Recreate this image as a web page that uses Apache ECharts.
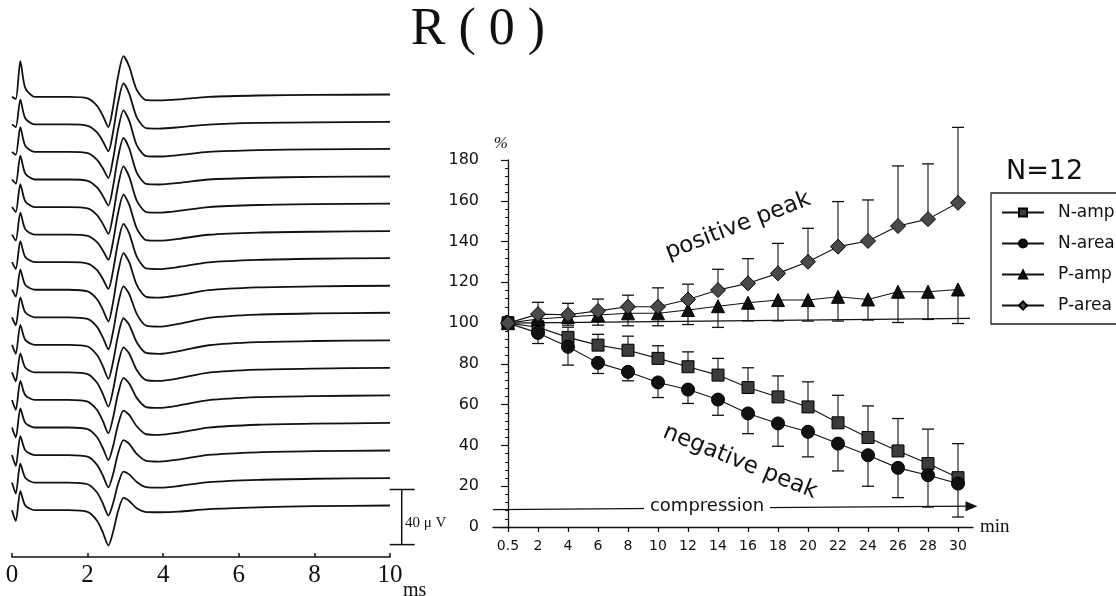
<!DOCTYPE html>
<html>
<head>
<meta charset="utf-8">
<script src="https://cdn.jsdelivr.net/npm/echarts@6.0.0/dist/echarts.min.js"></script>
<style>
  html, body { margin: 0; padding: 0; background: #fff; }
  #chart { width: 1116px; height: 596px; }
</style>
</head>
<body>
<div id="chart"></div>
<script>
// ---------- Right panel data (% of initial value) ----------
const timeLabels = ['0.5','2','4','6','8','10','12','14','16','18','20','22','24','26','28','30'];
const nAmp    = [100, 98, 93, 89.2, 86.7, 82.7, 78.6, 74.5, 68.4, 63.8, 58.9, 51.1, 43.9, 37.3, 31.1, 24.2];
const nAmpSD  = [3, 3, 5, 5.3, 6.9, 6.2, 7.3, 8.2, 9.7, 10.3, 12.3, 13.5, 15.5, 15.9, 16.9, 16.7];
const nArea   = [100, 95.2, 88.4, 80.5, 76.1, 70.9, 67.4, 62.5, 55.7, 50.8, 46.7, 40.9, 35.2, 29.0, 25.4, 21.3];
const nAreaSD = [3, 5.2, 9, 5.2, 4.4, 7.4, 6.8, 7.7, 9.9, 11.2, 12.3, 13.4, 15.2, 14.6, 15.6, 16.4];
const pAmp    = [100, 102, 103, 104, 104.8, 104.8, 106.4, 108.3, 110, 111.3, 111.3, 112.9, 111.6, 115.4, 115.4, 116.5];
const pAmpSD  = [1, 3, 4, 5, 6.1, 6.1, 7.1, 10.4, 8.9, 10.2, 10.3, 11.9, 10.1, 15.1, 13.6, 16.7];
const pArea   = [100, 104.4, 104.1, 106, 108, 108, 111.6, 116.2, 119.5, 124.4, 130.1, 137.5, 140.3, 147.6, 151, 159];
const pAreaSD = [3, 5.8, 5.6, 5.8, 5.7, 9.3, 7.5, 10.2, 12.1, 14.7, 16.4, 22.1, 20.1, 29.5, 27.1, 37];
const refLineX = [0, 15.4];
const refLineY = [100, 102.3];
const compressionX = [-0.5, 15.45];
const compressionY = [8.5, 10.2];
const yTicks = [0, 20, 40, 60, 80, 100, 120, 140, 160, 180];

// ---------- Left panel data (waveforms, µV relative to each trace baseline) ----------
const traceTimes = [0, 0.1, 0.22, 0.35, 0.6, 1.5, 2.0, 2.25, 2.4, 2.55, 2.68, 2.8, 2.95, 3.1, 3.3, 3.55, 3.9, 4.4, 5.2, 6.5, 8.0, 10];
const trace01 = [0, -1.5, 26, 6.5, 0, 0, -1.1, -6.5, -13.5, -21.8, -6.4, 14.1, 29.5, 22.1, 5.1, -2.3, -2.5, -1.8, 0, 1.0, 1.4, 1.7];
const trace02 = [0, -2, 18, 4.5, 0, 0, -1, -5.8, -12, -19.4, -4.6, 15, 29.8, 22.4, 5.1, -2.7, -3, -2.1, -0.1, 1.1, 1.5, 1.8];
const trace03 = [0, -2, 18, 4.5, 0, 0, -0.9, -5.7, -11.7, -18.9, -4.2, 15.5, 30.2, 22.7, 5, -3, -3.3, -2.3, 0, 1.3, 1.9, 2.2];
const trace04 = [0, -3, 17.4, 4.4, 0, 0, -0.9, -5.7, -11.7, -18.9, -4.1, 15.5, 30.3, 22.7, 5, -3.2, -3.6, -2.5, 0, 1.3, 1.9, 2.2];
const trace05 = [0, -3.6, 16.7, 4.2, 0, 0, -1, -5.8, -12, -19.4, -4.7, 14.8, 29.5, 22.1, 4.7, -3.6, -4, -2.8, 0, 1.5, 2.1, 2.5];
const trace06 = [0, -4.4, 16, 4, 0, 0, -0.9, -5.5, -11.3, -18.2, -4, 14.8, 29, 21.8, 4.5, -4, -4.4, -3.1, -0.1, 1.5, 2.1, 2.5];
const trace07 = [0, -5, 15.2, 3.8, 0, 0, -1, -5.8, -12, -19.4, -5.2, 13.6, 27.8, 20.9, 4.1, -4.5, -5, -3.5, -0.1, 1.7, 2.5, 2.9];
const trace08 = [0, -5, 14.5, 3.6, 0, 0, -1.2, -6.9, -14.3, -23, -8.1, 11.7, 26.6, 20, 3.6, -5.2, -5.8, -4.1, -0.3, 1.7, 2.5, 2.9];
const trace09 = [0, -5.8, 14.5, 3.6, 0, 0, -1.2, -7, -14.4, -23.2, -9.5, 8.8, 22.5, 16.9, 2.5, -6.1, -6.8, -4.8, -0.4, 2, 2.8, 3.3];
const trace10 = [0, -6.5, 14.5, 3.6, 0, 0, -1.2, -7.4, -15.3, -24.7, -11.5, 6.1, 19.3, 14.5, 1.9, -5.9, -6.5, -4.6, -0.3, 2, 2.8, 3.3];
const trace11 = [0, -6.5, 13.8, 3.5, 0, 0, -1.2, -7.5, -15.4, -24.9, -12, 5.3, 18.2, 13.7, 1.7, -5.6, -6.2, -4.3, -0.2, 2, 2.8, 3.3];
const trace12 = [0, -7.3, 13.8, 3.5, 0, 0, -1.2, -7.3, -15, -24.2, -12.1, 3.9, 16, 12, 1.5, -5.2, -5.8, -4.1, -0.2, 2, 2.8, 3.3];
const trace13 = [0, -7.3, 13.8, 3.5, 0, 0, -1.2, -7.1, -14.7, -23.7, -12.9, 1.5, 12.3, 9.2, 0.9, -4.9, -5.4, -3.8, -0.1, 2, 2.8, 3.3];
const trace14 = [0, -8, 13.8, 3.5, 0, 0, -1.2, -7.1, -14.6, -23.5, -13.2, 0.6, 10.9, 8.2, 0.8, -4.2, -4.7, -3.3, 0.1, 2, 2.8, 3.3];
const trace15 = [0, -8, 13.8, 3.5, 0, 0, -1.2, -7.2, -14.9, -24, -14.4, -1.6, 8, 6, 0.5, -3.2, -3.6, -2.5, 0.3, 2, 2.8, 3.3];
const trace16 = [0, -8, 13.8, 3.5, 0, 0, -1.3, -7.7, -15.9, -25.6, -15.2, -1.4, 8.9, 6.7, 1.3, -1.4, -1.5, -1.1, 0.7, 2, 2.9, 3.4];
const traces = [trace01, trace02, trace03, trace04, trace05, trace06, trace07, trace08,
                trace09, trace10, trace11, trace12, trace13, trace14, trace15, trace16];
const traceSpacingUV = 20;          // vertical offset between stacked sweeps (µV)
const msTicks = [0, 2, 4, 6, 8, 10];
const scaleBar = [10.31, -25, 15];  // x (ms), bottom, top (µV) : 40 µV

// ---------- Build chart ----------
const SANS = 'DejaVu Sans';
const SERIF = 'Liberation Serif';
const chart = echarts.init(document.getElementById('chart'), null, { renderer: 'canvas' });

const traceSeries = traces.map((tr, k) => ({
  type: 'line',
  xAxisIndex: 0, yAxisIndex: 0,
  data: traceTimes.map((t, i) => [t, (traces.length - 1 - k) * traceSpacingUV + tr[i]]),
  showSymbol: false, symbol: 'none',
  smooth: 0.25,
  lineStyle: { color: '#111', width: 1.8 },
  silent: true, animation: false, z: 3
}));

function errSeries(means, sds, dir) {
  return {
    type: 'custom', xAxisIndex: 2, yAxisIndex: 1, silent: true, animation: false, z: 2,
    clip: false,
    data: means.map((m, i) => [i, m, sds[i]]),
    renderItem: (params, api) => {
      const x = api.value(0), m = api.value(1), s = api.value(2);
      const p0 = api.coord([x, m]);
      const p1 = api.coord([x, m + dir * s]);
      return {
        type: 'group',
        children: [
          { type: 'line', shape: { x1: p0[0], y1: p0[1], x2: p1[0], y2: p1[1] }, style: { stroke: '#111', lineWidth: 1.1 } },
          { type: 'line', shape: { x1: p1[0] - 6, y1: p1[1], x2: p1[0] + 6, y2: p1[1] }, style: { stroke: '#111', lineWidth: 1.3 } }
        ]
      };
    }
  };
}

function lineSeries(name, vals, symbol, size, fill) {
  return {
    name, type: 'line', xAxisIndex: 2, yAxisIndex: 1,
    data: vals.map((v, i) => [i, v]),
    symbol, symbolSize: size, showAllSymbol: true,
    itemStyle: { color: fill, borderColor: '#000', borderWidth: 1 },
    lineStyle: { color: '#111', width: 1.1 },
    animation: false, z: 4
  };
}

const option = {
  backgroundColor: '#fff',
  animation: false,
  grid: [
    { left: 12, top: 39, width: 378, height: 518 },
    { left: 493, top: 160, width: 480, height: 367 }
  ],
  xAxis: [
    {
      type: 'value', gridIndex: 0, min: 0, max: 10, interval: 2,
      axisLine: { show: true, onZero: false, lineStyle: { color: '#111', width: 1.6 } },
      axisTick: { show: true, inside: true, length: 4, lineStyle: { color: '#111', width: 1.5 } },
      axisLabel: { show: true, margin: 6, color: '#111', fontFamily: SERIF, fontSize: 25,
                   formatter: v => msTicks.indexOf(v) >= 0 ? String(v) : '' },
      splitLine: { show: false }
    },
    {
      type: 'category', gridIndex: 1, data: timeLabels, boundaryGap: true,
      axisLine: { show: true, onZero: false, lineStyle: { color: '#111', width: 1.3 } },
      axisTick: { show: true, alignWithLabel: true, length: 5, lineStyle: { color: '#111', width: 1.3 } },
      axisLabel: { interval: 0, margin: 12, color: '#111', fontFamily: SANS, fontSize: 14 },
      name: 'min', nameLocation: 'end', nameGap: 7,
      nameTextStyle: { fontFamily: SERIF, fontSize: 19, color: '#111', verticalAlign: 'middle' },
      splitLine: { show: false }
    },
    {
      type: 'value', gridIndex: 1, min: -0.5, max: 15.5, show: false
    }
  ],
  yAxis: [
    { type: 'value', gridIndex: 0, min: -34, max: 342, show: false },
    {
      type: 'value', gridIndex: 1, min: 0, max: 180, interval: 20,
      axisLine: { show: true, lineStyle: { color: '#111', width: 1.3 } },
      axisTick: { show: true, length: 7, lineStyle: { color: '#111', width: 1.2 } },
      minorTick: { show: true, splitNumber: 5, length: 3, lineStyle: { color: '#111', width: 1 } },
      axisLabel: { margin: 14, color: '#111', fontFamily: SANS, fontSize: 16,
                   formatter: v => yTicks.indexOf(v) >= 0 ? String(v) : '' },
      splitLine: { show: false },
      name: '%', nameLocation: 'end', nameGap: 8,
      nameTextStyle: { fontFamily: SERIF, fontStyle: 'italic', fontSize: 17, color: '#111', align: 'right' }
    }
  ],
  legend: {
    data: ['N-amp', 'N-area', 'P-amp', 'P-area'],
    orient: 'vertical', left: 991, top: 193,
    padding: [11, 80, 10, 10], itemGap: 14,
    itemWidth: 42, itemHeight: 10,
    borderColor: '#222', borderWidth: 1.3,
    textStyle: { fontFamily: SANS, fontSize: 17, color: '#111', padding: [0, 0, 0, 9] },
    selectedMode: false
  },
  series: [
    ...traceSeries,
    {
      type: 'custom', xAxisIndex: 0, yAxisIndex: 0, silent: true, clip: false, animation: false,
      data: [scaleBar],
      renderItem: (params, api) => {
        const x = api.value(0);
        const pb = api.coord([x, api.value(1)]);
        const pt = api.coord([x, api.value(2)]);
        const st = { stroke: '#111', lineWidth: 1.5 };
        return { type: 'group', children: [
          { type: 'line', shape: { x1: pb[0], y1: pb[1], x2: pt[0], y2: pt[1] }, style: st },
          { type: 'line', shape: { x1: pb[0] - 12, y1: pb[1], x2: pb[0] + 13, y2: pb[1] }, style: st },
          { type: 'line', shape: { x1: pt[0] - 12, y1: pt[1], x2: pt[0] + 13, y2: pt[1] }, style: st }
        ]};
      }
    },
    {
      type: 'line', xAxisIndex: 2, yAxisIndex: 1, silent: true, animation: false,
      data: refLineX.map((x, i) => [x, refLineY[i]]),
      symbol: 'none', lineStyle: { color: '#111', width: 1.1 }, z: 1,
      markLine: {
        silent: true, animation: false,
        symbol: ['none', 'triangle'], symbolSize: [10, 12],
        lineStyle: { color: '#111', width: 1.2, type: 'solid' },
        label: { show: false },
        data: [[{ coord: [compressionX[0], compressionY[0]] }, { coord: [compressionX[1], compressionY[1]] }]]
      }
    },
    errSeries(nAmp, nAmpSD, 1),
    errSeries(nArea, nAreaSD, -1),
    errSeries(pAmp, pAmpSD, -1),
    errSeries(pArea, pAreaSD, 1),
    lineSeries('N-amp', nAmp, 'rect', 12, '#3c3c3c'),
    lineSeries('N-area', nArea, 'circle', 13, '#111'),
    lineSeries('P-amp', pAmp, 'triangle', 13, '#111'),
    lineSeries('P-area', pArea, 'diamond', 15, '#4a4a4a')
  ],
  graphic: [
    { type: 'text', x: 478, y: 30, silent: true,
      style: { text: 'R ( 0 )', font: '52px "Liberation Serif"', fill: '#111', align: 'center', verticalAlign: 'middle' } },
    { type: 'text', x: 1006, y: 172, silent: true,
      style: { text: 'N=12', font: '27px "DejaVu Sans"', fill: '#111', align: 'left', verticalAlign: 'middle' } },
    { type: 'text', x: 738, y: 226, rotation: 21 * Math.PI / 180, silent: true,
      style: { text: 'positive peak', font: '23px "DejaVu Sans"', fill: '#111', align: 'center', verticalAlign: 'middle' } },
    { type: 'text', x: 740, y: 462, rotation: -22 * Math.PI / 180, silent: true,
      style: { text: 'negative peak', font: '23px "DejaVu Sans"', fill: '#111', align: 'center', verticalAlign: 'middle' } },
    { type: 'text', x: 707, y: 506, silent: true, z: 100,
      style: { text: 'compression', font: '18px "DejaVu Sans"', fill: '#111', align: 'center', verticalAlign: 'middle',
               backgroundColor: '#fff', padding: [0, 6, 0, 6] } },
    { type: 'text', x: 403, y: 591, silent: true,
      style: { text: 'ms', font: '20px "Liberation Serif"', fill: '#111', align: 'left', verticalAlign: 'middle' } },
    { type: 'text', x: 405, y: 523, silent: true,
      style: { text: '40 μ V', font: '15px "Liberation Serif"', fill: '#111', align: 'left', verticalAlign: 'middle' } }
  ]
};
chart.setOption(option);
</script>
</body>
</html>
